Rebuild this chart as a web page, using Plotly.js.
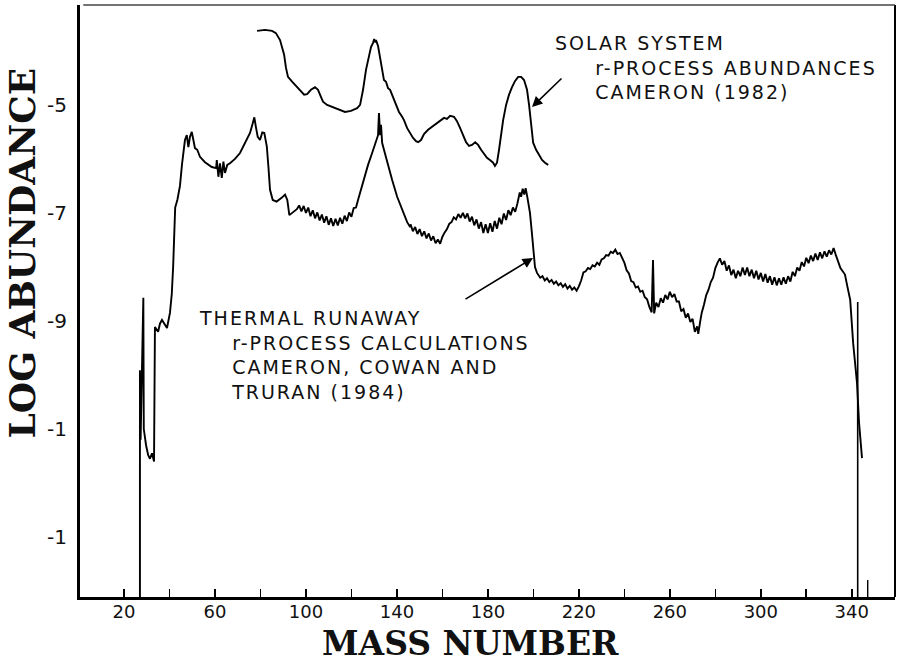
<!DOCTYPE html>
<html>
<head>
<meta charset="utf-8">
<script src="https://cdn.plot.ly/plotly-3.0.1.min.js"></script>
<style>
html,body{margin:0;padding:0;background:#ffffff;}
#chart{width:899px;height:666px;}
.annotation[data-index="0"] .annotation-text,
.annotation[data-index="1"] .annotation-text{letter-spacing:2px;}
</style>
</head>
<body>
<div id="chart"></div>
<script>
// ---- Solar system r-process abundances (Cameron 1982) ----
const solarA = [78.5,82.0,85.1,86.8,88.6,90.4,91.2,92.1,93.9,96.1,97.4,99.2,100.5,102.2,104.0,105.3,106.6,107.5,109.3,111.9,
  115.0,117.2,119.8,122.5,123.8,125.1,126.4,127.7,128.6,129.5,130.0,130.4,130.8,131.7,132.6,133.5,134.3,135.2,136.1,137.0,
  138.3,139.6,140.9,142.3,143.1,144.5,145.8,147.1,148.4,149.3,150.6,151.9,153.7,155.4,157.2,159.0,160.7,162.0,163.4,165.1,
  166.4,167.8,169.1,170.4,171.7,173.0,174.4,175.7,177.0,178.3,179.6,180.9,182.3,183.1,184.0,184.9,185.8,186.7,188.0,189.3,
  190.6,191.9,193.3,194.6,195.9,197.2,198.1,199.0,199.9,201.2,202.5,203.8,205.1,206.5];
const solarLog = [-3.63,-3.61,-3.63,-3.67,-3.80,-4.07,-4.31,-4.48,-4.57,-4.67,-4.74,-4.81,-4.80,-4.72,-4.67,-4.72,-4.85,-4.94,-5.00,-5.04,
  -5.09,-5.13,-5.11,-5.06,-5.00,-4.72,-4.35,-4.07,-3.93,-3.85,-3.78,-3.84,-3.80,-3.91,-4.13,-4.35,-4.54,-4.57,-4.69,-4.72,
  -4.85,-5.00,-5.13,-5.22,-5.28,-5.43,-5.52,-5.61,-5.67,-5.69,-5.65,-5.54,-5.46,-5.41,-5.35,-5.30,-5.24,-5.26,-5.20,-5.22,
  -5.30,-5.43,-5.57,-5.69,-5.76,-5.74,-5.69,-5.74,-5.83,-5.91,-5.98,-6.02,-6.07,-6.13,-6.07,-5.83,-5.56,-5.28,-5.00,-4.81,
  -4.67,-4.56,-4.48,-4.48,-4.54,-4.72,-5.00,-5.37,-5.70,-5.83,-5.93,-6.02,-6.07,-6.11];

// ---- Thermal runaway r-process calculations (Cameron, Cowan and Truran 1984) ----
const thermalA = [
  27.0,27.0,27.3,28.5,28.7,29.7,30.6,31.4,32.3,33.2,33.6,35.0,35.8,36.7,38.0,38.9,40.2,41.0,41.6,42.1,42.5,43.5,44.6,45.5,
  46.1,46.8,47.6,48.3,49.0,49.8,50.5,51.2,52.2,53.4,55.6,58.6,60.5,60.8,61.5,62.2,63.0,63.7,64.4,65.4,66.6,68.8,71.0,73.2,
  75.4,76.4,77.3,78.0,78.8,79.8,80.8,81.7,82.8,83.5,84.2,85.4,87.1,89.3,90.8,91.8,92.7,94.5,
  96,97,98,99,100,101,102,103,104,105,106,107,108,109,110,111,112,113,114,115,116,117,118,119,120,121,122,
  122.9,125.1,127.3,129.1,130.8,131.7,132.1,132.6,133.0,133.5,134.3,135.7,137.9,140.1,142.7,144.5,145.8,
  146,147,148,149,150,151,152,153,154,155,156,157,158,159,
  160,161,162,163,164,165,166,167,168,169,170,171,172,173,174,175,176,177,178,179,180,181,182,183,184,185,186,187,188,189,
  190,191,192,193,194,194.6,195.3,196,196.6,197.4,198.5,199.3,199.9,200.7,201.6,
  202,203,204,205,206,207,208,209,210,211,212,213,214,215,216,217,218,219,220,221,222,223,224,225,226,227,228,229,230,231,
  232,233,234,235,236,237,238,239,240,241,242,243,244,245,246,247,248,249,250,251,252,
  252.6,253.1,
  254,255,256,257,258,259,260,261,262,263,264,265,266,267,268,269,270,271,272,
  272.5,273.3,
  274,275,276,277,278,279,280,281,282,283,284,285,286,287,288,289,290,291,292,293,294,295,296,297,298,299,300,301,302,303,
  304,305,306,307,308,309,310,311,312,313,314,315,316,317,318,319,320,321,322,323,324,325,326,327,328,329,330,331,332,333,
  334,335,336,337,338,339.3,340.6,342.3,343.2,344.5];
const thermalLog = [
  -14.3,-9.91,-11.2,-8.57,-11.0,-11.3,-11.48,-11.55,-11.45,-11.6,-9.11,-9.2,-9.05,-8.98,-9.08,-9.13,-8.85,-8.5,-8.0,-7.3,-6.9,-6.75,-6.5,-6.1,
  -5.90,-5.65,-5.56,-5.78,-5.59,-5.50,-5.65,-5.80,-5.83,-5.96,-6.06,-6.15,-6.17,-6.02,-6.33,-6.08,-6.35,-6.05,-6.26,-6.11,-6.08,-6.00,-5.89,-5.70,
  -5.52,-5.37,-5.23,-5.41,-5.59,-5.65,-5.51,-5.52,-5.77,-6.15,-6.57,-6.76,-6.79,-6.72,-6.66,-6.76,-7.04,-6.98,
  -6.93,-6.86,-6.97,-6.87,-7.00,-6.90,-7.06,-6.95,-7.10,-6.99,-7.14,-7.03,-7.18,-7.06,-7.22,-7.10,-7.24,-7.11,-7.23,-7.09,-7.20,-7.05,-7.15,-6.99,-7.07,-6.91,-6.90,
  -6.76,-6.43,-6.11,-5.89,-5.69,-5.56,-5.15,-5.56,-5.37,-5.70,-5.83,-6.07,-6.39,-6.70,-7.00,-7.17,-7.26,
  -7.21,-7.34,-7.26,-7.39,-7.30,-7.43,-7.34,-7.47,-7.38,-7.51,-7.43,-7.56,-7.49,-7.57,
  -7.44,-7.36,-7.30,-7.20,-7.17,-7.08,-7.12,-7.02,-7.09,-7.00,-7.10,-7.01,-7.16,-7.07,-7.23,-7.12,-7.29,-7.17,-7.37,-7.21,-7.37,-7.19,-7.35,-7.15,-7.29,-7.09,-7.21,-7.01,-7.13,-6.95,
  -7.04,-6.90,-6.98,-6.82,-6.62,-6.70,-6.55,-6.66,-6.54,-6.72,-7.00,-7.35,-7.63,-8.00,-8.11,
  -8.14,-8.20,-8.17,-8.25,-8.21,-8.28,-8.24,-8.31,-8.27,-8.34,-8.30,-8.37,-8.32,-8.40,-8.35,-8.42,-8.38,-8.44,-8.36,-8.25,-8.10,-8.08,-8.02,-8.04,-7.97,-7.99,-7.92,-7.96,-7.86,-7.84,
  -7.78,-7.79,-7.72,-7.74,-7.68,-7.76,-7.74,-7.84,-7.92,-8.06,-8.12,-8.26,-8.28,-8.38,-8.36,-8.46,-8.44,-8.56,-8.60,-8.74,-8.84,
  -7.87,-8.86,
  -8.66,-8.74,-8.58,-8.66,-8.52,-8.60,-8.46,-8.56,-8.50,-8.64,-8.64,-8.82,-8.78,-8.94,-8.86,-9.02,-8.96,-9.20,-9.10,
  -9.24,-9.02,
  -8.85,-8.70,-8.52,-8.42,-8.28,-8.20,-8.02,-7.92,-7.84,-7.96,-7.89,-8.07,-7.97,-8.15,-8.05,-8.21,-8.07,-8.17,-8.01,-8.15,-8.01,-8.17,-8.05,-8.21,-8.07,-8.23,-8.11,-8.27,-8.13,-8.29,
  -8.17,-8.33,-8.19,-8.34,-8.21,-8.33,-8.19,-8.31,-8.17,-8.27,-8.09,-8.17,-8.01,-8.07,-7.91,-7.99,-7.83,-7.93,-7.79,-7.89,-7.75,-7.87,-7.73,-7.84,-7.71,-7.81,-7.69,-7.77,-7.65,-7.78,
  -7.92,-8.02,-8.08,-8.14,-8.35,-8.61,-9.41,-10.15,-10.89,-11.54];

// vertical drop line at the heavy end
const edgeA = [342.6, 342.6];
const edgeLog = [-8.65, -14.3];

// ---- ticks & labels ----
const xTickVals = [20,40,60,80,100,120,140,160,180,200,220,240,260,280,300,320,340];
const xTickText = ['20','','60','','100','','140','','180','','220','','260','','300','','340'];
const yTickVals = [-5,-7,-9,-11,-13];
const yTickText = ['-5','-7','-9','-1','-1'];
const xTitle = 'MASS NUMBER';
const yTitle = 'LOG ABUNDANCE';
const solarLabel = ['SOLAR SYSTEM','r-PROCESS ABUNDANCES','CAMERON (1982)'];
const thermalLabel = ['THERMAL RUNAWAY','r-PROCESS CALCULATIONS','CAMERON, COWAN AND','TRURAN (1984)'];

// plot-area pixel frame (for placing text)
const L = 80, R = 895, T = 5, B = 597;
const px = p => (p - L) / (R - L);
const py = p => (B - p) / (B - T);
const NB = '\u00a0';

const lineStyle = {color: '#000', width: 1.9};
const traces = [
  {x: solarA, y: solarLog, mode: 'lines', line: lineStyle, hoverinfo: 'skip'},
  {x: thermalA, y: thermalLog, mode: 'lines', line: lineStyle, hoverinfo: 'skip'},
  {x: edgeA, y: edgeLog, mode: 'lines', line: {color: '#000', width: 1.6}, hoverinfo: 'skip'}
];

const textFont = {family: 'DejaVu Sans', size: 19, color: '#111'};
const solarText = solarLabel.map((t, i) => (i === 0 ? '' : NB.repeat(5)) + t).join('<br>');
const thermalText = thermalLabel.map((t, i) => (i === 0 ? '' : NB.repeat(4)) + t).join('<br>');

const annotations = [
  {xref: 'paper', yref: 'paper', x: px(553), y: py(67), xanchor: 'left', yanchor: 'middle', align: 'left',
   text: solarText, showarrow: false, font: textFont},
  {xref: 'paper', yref: 'paper', x: px(197), y: py(355), xanchor: 'left', yanchor: 'middle', align: 'left',
   text: thermalText, showarrow: false, font: textFont},
  {xref: 'paper', yref: 'paper', x: px(470), y: py(643.5), xanchor: 'center', yanchor: 'middle',
   text: xTitle, showarrow: false,
   font: {family: 'DejaVu Serif', size: 33, weight: 'bold', color: '#111'}},
  {xref: 'paper', yref: 'paper', x: px(21.5), y: py(253), xanchor: 'center', yanchor: 'middle',
   text: yTitle, textangle: -90, showarrow: false,
   font: {family: 'DejaVu Serif', size: 36, weight: 'bold', color: '#111'}},
  {xref: 'paper', yref: 'paper', x: px(532), y: py(107), ax: 31, ay: -30, text: '',
   showarrow: true, arrowhead: 2, arrowsize: 1.3, arrowwidth: 1.6, arrowcolor: '#000'},
  {xref: 'paper', yref: 'paper', x: px(533), y: py(258), ax: -69, ay: 42, text: '',
   showarrow: true, arrowhead: 2, arrowsize: 1.3, arrowwidth: 1.6, arrowcolor: '#000'}
];

const layout = {
  width: 899, height: 666,
  margin: {l: L, r: 899 - R, t: T, b: 666 - B, pad: 0},
  paper_bgcolor: '#fff', plot_bgcolor: '#fff',
  showlegend: false,
  xaxis: {
    range: [0.65, 359], tickvals: xTickVals, ticktext: xTickText,
    ticks: 'inside', ticklen: 8, tickwidth: 1.6, tickcolor: '#000',
    showline: true, linewidth: 2.5, linecolor: '#000', showgrid: false, zeroline: false,
    tickfont: {family: 'DejaVu Sans', size: 18, color: '#111'}, ticklabelstandoff: -3
  },
  yaxis: {
    range: [-14.11, -3.15], tickvals: yTickVals, ticktext: yTickText,
    ticks: '', showline: true, linewidth: 3, linecolor: '#000', showgrid: false, zeroline: false,
    tickfont: {family: 'DejaVu Sans', size: 20, color: '#111'}, ticklabelstandoff: 6
  },
  shapes: [
    {type: 'line', xref: 'paper', yref: 'paper', x0: 1, x1: 1, y0: 0, y1: 1, line: {color: '#000', width: 2}},
    {type: 'line', xref: 'paper', yref: 'paper', x0: 0.004, x1: 1, y0: 1, y1: 1, line: {color: '#444', width: 1.5}},
    {type: 'line', xref: 'x', yref: 'paper', x0: 347, x1: 347, y0: 0, y1: 17 / (B - T), line: {color: '#000', width: 1.4}}
  ],
  annotations: annotations
};

Plotly.newPlot('chart', traces, layout, {displayModeBar: false, staticPlot: true});
</script>
</body>
</html>
